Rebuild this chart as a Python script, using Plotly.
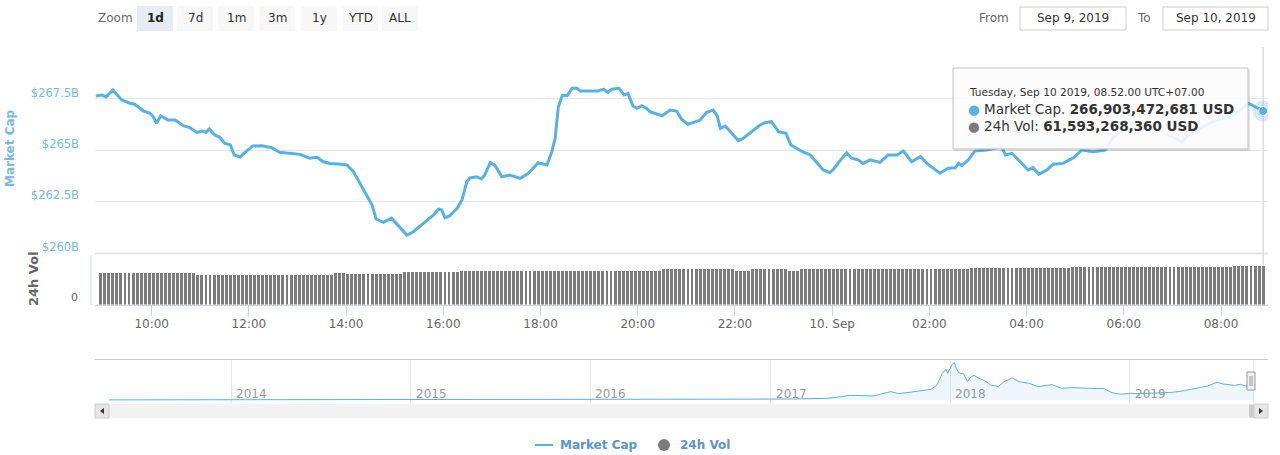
import plotly.graph_objects as go
import pandas as pd

W, H = 1280, 455
def fx(px): return px / W
def fy(py): return 1 - py / H

# ---------------- data ----------------
mc_time = [
    "2019-09-09 08:51", "2019-09-09 08:58", "2019-09-09 09:04", "2019-09-09 09:12", "2019-09-09 09:23",
    "2019-09-09 09:33", "2019-09-09 09:39", "2019-09-09 09:50", "2019-09-09 09:58", "2019-09-09 10:02",
    "2019-09-09 10:06", "2019-09-09 10:11", "2019-09-09 10:20", "2019-09-09 10:29", "2019-09-09 10:39",
    "2019-09-09 10:47", "2019-09-09 10:56", "2019-09-09 11:02", "2019-09-09 11:07", "2019-09-09 11:11",
    "2019-09-09 11:18", "2019-09-09 11:24", "2019-09-09 11:30", "2019-09-09 11:37", "2019-09-09 11:42",
    "2019-09-09 11:49", "2019-09-09 11:57", "2019-09-09 12:05", "2019-09-09 12:16", "2019-09-09 12:28",
    "2019-09-09 12:38", "2019-09-09 12:51", "2019-09-09 13:03", "2019-09-09 13:15", "2019-09-09 13:24",
    "2019-09-09 13:32", "2019-09-09 13:40", "2019-09-09 13:50", "2019-09-09 14:01", "2019-09-09 14:09",
    "2019-09-09 14:17", "2019-09-09 14:25", "2019-09-09 14:32", "2019-09-09 14:37", "2019-09-09 14:46",
    "2019-09-09 14:56", "2019-09-09 15:04", "2019-09-09 15:15", "2019-09-09 15:23", "2019-09-09 15:35",
    "2019-09-09 15:48", "2019-09-09 15:54", "2019-09-09 15:58", "2019-09-09 16:02", "2019-09-09 16:08",
    "2019-09-09 16:17", "2019-09-09 16:23", "2019-09-09 16:29", "2019-09-09 16:33", "2019-09-09 16:41",
    "2019-09-09 16:47", "2019-09-09 16:51", "2019-09-09 16:58", "2019-09-09 17:04", "2019-09-09 17:12",
    "2019-09-09 17:22", "2019-09-09 17:35", "2019-09-09 17:45", "2019-09-09 17:57", "2019-09-09 18:08",
    "2019-09-09 18:14", "2019-09-09 18:18", "2019-09-09 18:22", "2019-09-09 18:27", "2019-09-09 18:33",
    "2019-09-09 18:39", "2019-09-09 18:45", "2019-09-09 18:49", "2019-09-09 19:01", "2019-09-09 19:11",
    "2019-09-09 19:18", "2019-09-09 19:23", "2019-09-09 19:28", "2019-09-09 19:37", "2019-09-09 19:43",
    "2019-09-09 19:48", "2019-09-09 19:54", "2019-09-09 19:59", "2019-09-09 20:05", "2019-09-09 20:11",
    "2019-09-09 20:15", "2019-09-09 20:30", "2019-09-09 20:40", "2019-09-09 20:48", "2019-09-09 20:54",
    "2019-09-09 21:02", "2019-09-09 21:17", "2019-09-09 21:25", "2019-09-09 21:33", "2019-09-09 21:38",
    "2019-09-09 21:42", "2019-09-09 21:48", "2019-09-09 21:56", "2019-09-09 22:04", "2019-09-09 22:10",
    "2019-09-09 22:15", "2019-09-09 22:23", "2019-09-09 22:31", "2019-09-09 22:37", "2019-09-09 22:45",
    "2019-09-09 22:54", "2019-09-09 23:03", "2019-09-09 23:09", "2019-09-09 23:22", "2019-09-09 23:33",
    "2019-09-09 23:43", "2019-09-09 23:49", "2019-09-09 23:57", "2019-09-10 00:01", "2019-09-10 00:08",
    "2019-09-10 00:18", "2019-09-10 00:24", "2019-09-10 00:32", "2019-09-10 00:38", "2019-09-10 00:47",
    "2019-09-10 00:59", "2019-09-10 01:09", "2019-09-10 01:20", "2019-09-10 01:28", "2019-09-10 01:38",
    "2019-09-10 01:49", "2019-09-10 01:57", "2019-09-10 02:13", "2019-09-10 02:23", "2019-09-10 02:32",
    "2019-09-10 02:36", "2019-09-10 02:40", "2019-09-10 02:48", "2019-09-10 02:56", "2019-09-10 03:11",
    "2019-09-10 03:23", "2019-09-10 03:29", "2019-09-10 03:34", "2019-09-10 03:42", "2019-09-10 03:52",
    "2019-09-10 04:02", "2019-09-10 04:08", "2019-09-10 04:15", "2019-09-10 04:25", "2019-09-10 04:33",
    "2019-09-10 04:45", "2019-09-10 04:58", "2019-09-10 05:08", "2019-09-10 05:22", "2019-09-10 05:37",
    "2019-09-10 05:47", "2019-09-10 05:57", "2019-09-10 06:20", "2019-09-10 06:41", "2019-09-10 07:00",
    "2019-09-10 07:12", "2019-09-10 07:22", "2019-09-10 07:50", "2019-09-10 08:07", "2019-09-10 08:24",
    "2019-09-10 08:34", "2019-09-10 08:42", "2019-09-10 08:52",
]
mc_value = [  # billions USD
    267.63, 267.68, 267.60, 267.93, 267.44,
    267.28, 267.23, 266.90, 266.79, 266.62,
    266.30, 266.67, 266.46, 266.46, 266.19,
    266.09, 265.86, 265.93, 265.86, 266.03,
    265.73, 265.62, 265.33, 265.25, 264.76,
    264.66, 264.95, 265.20, 265.21, 265.11,
    264.89, 264.84, 264.79, 264.60, 264.65,
    264.43, 264.35, 264.32, 264.27, 263.95,
    263.38, 262.81, 262.32, 261.64, 261.48,
    261.68, 261.35, 260.86, 261.02, 261.43,
    261.84, 262.13, 262.08, 261.70, 261.80,
    262.16, 262.57, 263.46, 263.65, 263.70,
    263.59, 263.78, 264.40, 264.24, 263.70,
    263.78, 263.62, 263.87, 264.38, 264.27,
    264.92, 265.57, 267.11, 267.68, 267.65,
    268.01, 268.01, 267.88, 267.88, 267.88,
    267.97, 267.81, 267.96, 268.01, 267.68,
    267.76, 267.15, 267.03, 267.16, 267.03,
    266.87, 266.67, 266.95, 266.90, 266.50,
    266.25, 266.46, 266.84, 266.95, 266.67,
    266.06, 266.17, 265.82, 265.46, 265.57,
    265.73, 265.98, 266.22, 266.33, 266.38,
    265.89, 265.82, 265.25, 264.95, 264.76,
    264.27, 264.03, 263.90, 264.03, 264.40,
    264.87, 264.60, 264.52, 264.35, 264.52,
    264.40, 264.76, 264.76, 264.95, 264.43,
    264.68, 264.35, 263.87, 264.11, 264.14,
    264.35, 264.24, 264.52, 264.95, 265.00,
    265.09, 265.16, 264.76, 264.84, 264.43,
    264.03, 264.14, 263.82, 264.03, 264.31,
    264.35, 264.63, 265.00, 264.92, 265.00,
    265.62, 265.91, 266.07, 265.98, 265.65,
    265.40, 265.82, 266.38, 266.62, 266.95,
    267.28, 267.11, 266.903472681,
]

# 24h volume (billions USD), read as step levels of the 5-minute columns
vol_seg_start = [
    "2019-09-09 08:50", "2019-09-09 10:55", "2019-09-09 13:45", "2019-09-09 14:00",
    "2019-09-09 15:10", "2019-09-09 16:20", "2019-09-09 20:30", "2019-09-09 22:00",
    "2019-09-09 22:20", "2019-09-09 23:05", "2019-09-09 23:20", "2019-09-10 02:50",
    "2019-09-10 04:55", "2019-09-10 05:20", "2019-09-10 08:15",
]
vol_seg_value = [49.5, 46.8, 49.8, 49.0, 51.1, 53.1, 55.8, 53.1, 55.8, 53.1, 55.8, 57.9, 59.2, 60.0, 61.593268360]

# navigator: total market cap history (billions USD)
nav_date = [
    "2013-04-28", "2013-10-01", "2013-11-20", "2013-12-04", "2013-12-18", "2014-01-06", "2014-02-25",
    "2014-06-03", "2014-09-01", "2014-12-01", "2015-01-14", "2015-06-01", "2015-11-04", "2015-12-31",
    "2016-06-17", "2016-09-01", "2016-12-31", "2017-02-15", "2017-03-18", "2017-04-26", "2017-05-20",
    "2017-06-12", "2017-07-06", "2017-07-29", "2017-09-02", "2017-09-18", "2017-10-15", "2017-11-07",
    "2017-11-23", "2017-12-05", "2017-12-16", "2017-12-23", "2017-12-27", "2018-01-04", "2018-01-09",
    "2018-01-13", "2018-01-18", "2018-01-28", "2018-02-05", "2018-02-11", "2018-02-18", "2018-02-28",
    "2018-03-12", "2018-03-24", "2018-04-09", "2018-04-20", "2018-05-07", "2018-05-21", "2018-06-10",
    "2018-06-29", "2018-07-27", "2018-08-15", "2018-09-08", "2018-10-09", "2018-11-09", "2018-11-25",
    "2018-12-14", "2019-01-01", "2019-01-26", "2019-02-26", "2019-03-29", "2019-04-22", "2019-05-15",
    "2019-06-08", "2019-06-27", "2019-07-09", "2019-08-01", "2019-08-13", "2019-08-28", "2019-09-10",
]
nav_value = [
    1.5, 1.8, 8, 14, 7, 11, 7,
    8.5, 6.7, 5, 3, 3.6, 6.5, 7,
    12.5, 10.3, 17, 20, 27, 33, 60,
    93, 87, 80, 167, 127, 160, 187,
    214, 300, 534, 614, 534, 700, 748,
    634, 547, 521, 367, 454, 494, 434,
    387, 300, 267, 367, 440, 367, 334,
    267, 307, 234, 247, 234, 227, 147,
    113, 133, 127, 140, 154, 187, 234,
    280, 354, 320, 294, 314, 267, 267,
]
nav_years = ["2014", "2015", "2016", "2017", "2018", "2019"]

xtick_time = ["2019-09-09 10:00", "2019-09-09 12:00", "2019-09-09 14:00", "2019-09-09 16:00",
              "2019-09-09 18:00", "2019-09-09 20:00", "2019-09-09 22:00", "2019-09-10 00:00",
              "2019-09-10 02:00", "2019-09-10 04:00", "2019-09-10 06:00", "2019-09-10 08:00"]
xtick_text = ["10:00", "12:00", "14:00", "16:00", "18:00", "20:00", "22:00", "10. Sep",
              "02:00", "04:00", "06:00", "08:00"]
ytick_vals = [260, 262.5, 265, 267.5]
ytick_text = ["$260B", "$262.5B", "$265B", "$267.5B"]
zoom_buttons = ["1d", "7d", "1m", "3m", "1y", "YTD", "ALL"]
date_from, date_to = "Sep 9, 2019", "Sep 10, 2019"
tip_date = "Tuesday, Sep 10 2019, 08.52.00 UTC+07.00"
tip_mc = "266,903,472,681 USD"
tip_vol = "61,593,268,360 USD"

# ---------------- styling ----------------
BLUE = "#55b2e8"
LBLUE = "#76b9ea"
GRAY = "#7b7b7b"
FONT = "DejaVu Sans"
X0, X1 = "2019-09-09 08:50", "2019-09-10 08:58"

bar_time = pd.date_range("2019-09-09 08:57", "2019-09-10 08:52", freq="5min")
seg_t = pd.to_datetime(vol_seg_start)
vol = []
for t in bar_time:
    v = vol_seg_value[0]
    for st, sv in zip(seg_t, vol_seg_value):
        if st <= t:
            v = sv
    vol.append(v)

fig = go.Figure()
fig.add_trace(go.Bar(x=bar_time, y=vol, xaxis="x2", yaxis="y2", marker=dict(color=GRAY, line=dict(width=0)),
                     width=5 * 60 * 1000 * 0.72, hoverinfo="skip", showlegend=False))
fig.add_trace(go.Scatter(x=nav_date, y=nav_value, xaxis="x3", yaxis="y3", mode="lines", fill="tozeroy",
                         fillcolor="rgba(90,170,230,0.10)", line=dict(color=BLUE, width=1),
                         hoverinfo="skip", showlegend=False))
fig.add_trace(go.Scatter(x=mc_time, y=mc_value, mode="lines", line=dict(color=BLUE, width=3),
                         hoverinfo="skip", showlegend=False))
fig.add_trace(go.Scatter(x=[mc_time[-1]], y=[mc_value[-1]], mode="markers",
                         marker=dict(size=21, color=BLUE, opacity=0.25), hoverinfo="skip", showlegend=False))
fig.add_trace(go.Scatter(x=[mc_time[-1]], y=[mc_value[-1]], mode="markers",
                         marker=dict(size=9, color=BLUE, line=dict(color="white", width=1)),
                         hoverinfo="skip", showlegend=False))

shapes = []
ann = []

def rect(x0, y0, x1, y1, fill, line=None, lw=1):
    shapes.append(dict(type="rect", xref="paper", yref="paper", x0=fx(x0), x1=fx(x1), y0=fy(y1), y1=fy(y0),
                       fillcolor=fill, line=dict(color=line or fill, width=lw if line else 0), layer="above"))

def hline(x0, x1, y, color, w=1, layer="above"):
    shapes.append(dict(type="line", xref="paper", yref="paper", x0=fx(x0), x1=fx(x1), y0=fy(y), y1=fy(y),
                       line=dict(color=color, width=w), layer=layer))

def vline(x, y0, y1, color, w=1):
    shapes.append(dict(type="line", xref="paper", yref="paper", x0=fx(x), x1=fx(x), y0=fy(y0), y1=fy(y1),
                       line=dict(color=color, width=w), layer="above"))

def text(x, y, s, size=12, color="#333", anchor="left", **kw):
    ann.append(dict(xref="paper", yref="paper", x=fx(x), y=fy(y), text=s, showarrow=False, xanchor=anchor,
                    yanchor="middle", font=dict(family=FONT, size=size, color=color), **kw))

# toolbar
text(96, 18, "Zoom", 12, "#666")
bx = [137, 177, 218, 259, 301, 342, 382]
for i, (b, x0) in enumerate(zip(zoom_buttons, bx)):
    rect(x0, 6, x0 + 36, 31, "#e6ebf5" if i == 0 else "#f7f7f7")
    text(x0 + 18, 18, ("<b>%s</b>" % b) if i == 0 else b, 12, "#222" if i == 0 else "#333", anchor="center")
text(1011, 18, "From", 12, "#666", anchor="right")
rect(1020, 7, 1126, 30, "white", "#cccccc")
text(1073, 18, date_from, 12, "#333", anchor="center")
text(1153, 18, "To", 12, "#666", anchor="right")
rect(1163, 7, 1268, 30, "white", "#cccccc")
text(1215.5, 18, date_to, 12, "#333", anchor="center")

# separators / axis lines
hline(95, 1268, 253.5, "#e3e3e3", 2, layer="below")
vline(91, 255, 305, "#ccd6eb")
shapes.append(dict(type="line", xref="x", yref="paper", x0=mc_time[-1], x1=mc_time[-1], y0=fy(305), y1=fy(47),
                   line=dict(color="#cccccc", width=1), layer="below"))

# axis titles
text(10, 148, "<b>Market Cap</b>", 12, LBLUE, anchor="center", textangle=-90)
text(33, 279, "<b>24h Vol</b>", 13, "#666", anchor="center", textangle=-90)

# navigator chrome
hline(95, 1268, 359.5, "#cccccc")
shapes.append(dict(type="line", xref="x3", yref="paper", x0=nav_date[-1], x1=nav_date[-1], y0=fy(359.5), y1=fy(403),
                   line=dict(color="#cccccc", width=1), layer="above"))
for yr in nav_years:
    ann.append(dict(xref="x3", yref="paper", x=yr + "-01-01", y=fy(394), text=yr, showarrow=False, xanchor="left",
                    xshift=3, yanchor="middle", font=dict(family=FONT, size=12, color="#999")))
rect(95, 404, 1268, 418, "#f2f2f2")
rect(95, 404, 109, 418, "#e6e6e6", "#cccccc")
rect(1254, 404, 1268, 418, "#e6e6e6", "#cccccc")
rect(1249, 404.5, 1254, 417.5, "#cccccc")
shapes.append(dict(type="path", xref="paper", yref="paper",
                   path="M %f %f L %f %f L %f %f Z" % (fx(100), fy(411), fx(104), fy(408), fx(104), fy(414)),
                   fillcolor="#333", line=dict(width=0), layer="above"))
shapes.append(dict(type="path", xref="paper", yref="paper",
                   path="M %f %f L %f %f L %f %f Z" % (fx(1263), fy(411), fx(1259), fy(408), fx(1259), fy(414)),
                   fillcolor="#333", line=dict(width=0), layer="above"))
rect(1247, 372, 1255, 390, "#f2f2f2", "#999999")
vline(1250, 376, 386, "#999999")
vline(1252, 376, 386, "#999999")

# tooltip
rect(954, 69.5, 1250, 151, "rgba(0,0,0,0.10)")
rect(953, 68, 1248, 149, "rgba(255,255,255,0.88)", "#c0c0c0")
text(967, 92, tip_date, 10.6, "#333")
text(966, 109, "<span style='color:%s'>●</span> Market Cap. <b>%s</b>" % (BLUE, tip_mc), 13.5, "#333")
text(966, 126, "<span style='color:%s'>●</span> 24h Vol: <b>%s</b>" % (GRAY, tip_vol), 13.5, "#333")

# legend
hline(535, 553, 445, BLUE, 2)
text(558, 445, "<b>Market Cap</b>", 12, "#5b93d3")
shapes.append(dict(type="circle", xref="paper", yref="paper", x0=fx(658), x1=fx(670), y0=fy(451), y1=fy(439),
                   fillcolor=GRAY, line=dict(width=0)))
text(678, 445, "<b>24h Vol</b>", 12, "#5b93d3")

fig.update_layout(
    width=W, height=H, autosize=False, margin=dict(l=0, r=0, t=0, b=0),
    paper_bgcolor="white", plot_bgcolor="rgba(0,0,0,0)", showlegend=False, bargap=0,
    font=dict(family=FONT, size=11, color="#666"),
    xaxis=dict(domain=[fx(95), fx(1268)], range=[X0, X1], type="date", anchor="y", showticklabels=False,
               showgrid=False, zeroline=False, showline=False, ticks=""),
    yaxis=dict(domain=[fy(252.7), fy(47.4)], range=[260, 270], anchor="x", tickvals=ytick_vals,
               ticktext=ytick_text, gridcolor="#e6e6e6", gridwidth=1, zeroline=False, showline=False,
               tickfont=dict(family=FONT, size=11.5, color=LBLUE), ticklabelstandoff=15, ticklabelshift=-6),
    xaxis2=dict(domain=[fx(95), fx(1268)], range=[X0, X1], type="date", anchor="y2", tickvals=xtick_time,
                ticktext=xtick_text, ticks="outside", ticklen=10, tickcolor="#ccd6eb", showline=True,
                linecolor="#ccd6eb", showgrid=False, zeroline=False, ticklabelstandoff=-2,
                tickfont=dict(family=FONT, size=12, color="#666")),
    yaxis2=dict(domain=[fy(304.5), fy(255)], range=[0, 78.5], anchor="x2", tickvals=[0], ticktext=["0"],
                showgrid=False, zeroline=False, showline=False, ticklabelstandoff=16, ticklabelshift=-7,
                tickfont=dict(family=FONT, size=11, color="#666")),
    xaxis3=dict(domain=[fx(109), fx(1254)], range=["2013-04-28", "2019-09-10"], type="date", anchor="y3",
                showticklabels=False, tickvals=[y + "-01-01" for y in nav_years], showgrid=True,
                gridcolor="#e6e6e6", zeroline=False, showline=False, ticks=""),
    yaxis3=dict(domain=[fy(403.3), fy(359.3)], range=[-67, 814], anchor="x3", visible=False),
    shapes=shapes, annotations=ann,
)
fig.write_html("out.html", config={"displayModeBar": False},
               post_script="document.body.style.margin='0';document.body.style.overflow='hidden';")
